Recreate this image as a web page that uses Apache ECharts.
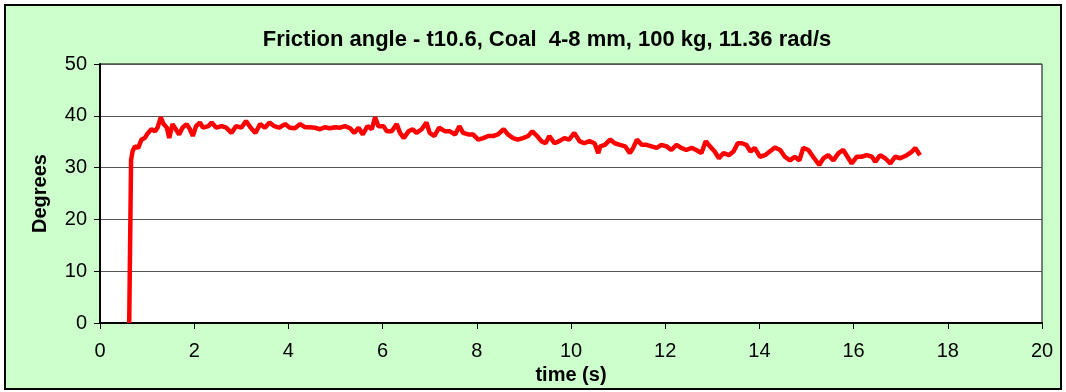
<!DOCTYPE html>
<html>
<head>
<meta charset="utf-8">
<script src="https://cdn.jsdelivr.net/npm/echarts@6/dist/echarts.min.js"></script>
<style>
  html, body { margin: 0; padding: 0; background: #ffffff; }
  #chart { width: 1066px; height: 392px; }
</style>
</head>
<body>
<div id="chart"></div>
<script>
// Friction angle record: time (s) and angle (degrees)
const timeS = [
  0.62, 0.66, 0.69, 0.74, 0.81, 0.88, 0.95, 1.02, 1.09, 1.17, 1.22, 1.29, 1.35, 1.42, 1.47, 1.54, 1.61, 1.68, 1.75, 1.84,
  1.91, 1.97, 2.04, 2.12, 2.19, 2.30, 2.37, 2.47, 2.58, 2.68, 2.79, 2.89, 3.00, 3.10, 3.20, 3.30, 3.40, 3.50, 3.60, 3.70,
  3.80, 3.93, 4.03, 4.14, 4.25, 4.35, 4.46, 4.56, 4.67, 4.77, 4.88, 4.99, 5.10, 5.20, 5.31, 5.40, 5.49, 5.58, 5.68, 5.77,
  5.84, 5.91, 6.02, 6.09, 6.19, 6.30, 6.37, 6.45, 6.55, 6.64, 6.72, 6.83, 6.93, 7.00, 7.10, 7.20, 7.33, 7.43, 7.54, 7.63,
  7.71, 7.82, 7.92, 8.03, 8.14, 8.24, 8.35, 8.45, 8.57, 8.66, 8.77, 8.87, 8.98, 9.09, 9.18, 9.28, 9.37, 9.46, 9.54, 9.65,
  9.75, 9.86, 9.96, 10.07, 10.18, 10.28, 10.39, 10.50, 10.58, 10.62, 10.72, 10.83, 10.93, 11.04, 11.15, 11.25, 11.32, 11.40, 11.50, 11.60,
  11.71, 11.82, 11.92, 12.03, 12.13, 12.24, 12.34, 12.45, 12.56, 12.66, 12.77, 12.86, 12.95, 13.05, 13.14, 13.24, 13.35, 13.45, 13.54, 13.63,
  13.72, 13.81, 13.90, 14.01, 14.12, 14.22, 14.33, 14.44, 14.54, 14.65, 14.75, 14.85, 14.93, 15.04, 15.14, 15.27, 15.36, 15.46, 15.57, 15.68,
  15.78, 15.87, 15.96, 16.07, 16.17, 16.28, 16.39, 16.46, 16.56, 16.67, 16.78, 16.88, 16.99, 17.13, 17.24, 17.31, 17.41
];
const angleDeg = [
  0.0, 31.5, 33.1, 34.1, 33.8, 35.4, 35.7, 36.7, 37.4, 37.0, 37.7, 39.7, 38.4, 37.7, 35.7, 38.4, 37.4, 36.4, 37.7, 38.4,
  37.4, 36.1, 38.0, 38.7, 37.7, 38.0, 38.7, 37.7, 38.0, 37.7, 36.7, 38.0, 37.7, 39.0, 37.7, 36.7, 38.4, 37.7, 38.7, 38.0,
  37.7, 38.4, 37.7, 37.6, 38.4, 37.8, 37.8, 37.7, 37.4, 37.8, 37.6, 37.8, 37.7, 38.0, 37.6, 36.7, 37.7, 36.4, 38.0, 37.4,
  39.7, 38.0, 38.0, 37.0, 37.0, 38.4, 36.7, 35.7, 37.0, 37.4, 36.7, 37.4, 38.7, 36.7, 36.1, 37.7, 37.0, 37.0, 36.4, 38.0,
  36.7, 36.4, 36.4, 35.4, 35.7, 36.1, 36.1, 36.4, 37.4, 36.4, 35.7, 35.4, 35.7, 36.1, 37.0, 36.1, 35.1, 34.7, 36.1, 34.7,
  35.1, 35.7, 35.4, 36.7, 35.1, 34.7, 35.1, 34.7, 32.8, 34.1, 34.4, 35.4, 34.7, 34.4, 34.1, 32.8, 33.8, 35.4, 34.4, 34.4,
  34.1, 33.8, 34.4, 34.1, 33.4, 34.4, 33.8, 33.4, 33.8, 33.4, 32.8, 35.1, 34.1, 33.1, 31.8, 32.8, 32.4, 33.1, 34.7, 34.7,
  34.4, 33.1, 33.8, 32.1, 32.4, 33.1, 33.9, 33.4, 32.1, 31.4, 32.1, 31.4, 33.8, 33.4, 32.1, 30.5, 31.8, 32.4, 31.4, 32.8,
  33.4, 32.1, 30.8, 32.1, 32.1, 32.4, 32.1, 31.1, 32.4, 31.8, 30.8, 32.1, 31.8, 32.4, 33.1, 33.8, 32.4
];
const xTicks = [0, 2, 4, 6, 8, 10, 12, 14, 16, 18, 20];
const yTicks = [0, 10, 20, 30, 40, 50];

const points = timeS.map((t, i) => [t, angleDeg[i]]);
const font = '"Liberation Sans", Arial, sans-serif';

const chart = echarts.init(document.getElementById('chart'), null, { renderer: 'canvas' });
chart.setOption({
  backgroundColor: '#ffffff',
  animation: false,
  graphic: [{
    type: 'rect',
    z: -10,
    silent: true,
    shape: { x: 5, y: 5, width: 1056, height: 384 },
    style: { fill: '#ccffcc', stroke: '#000000', lineWidth: 2 }
  }],
  title: {
    text: 'Friction angle - t10.6, Coal  4-8 mm, 100 kg, 11.36 rad/s',
    left: 542,
    top: 24,
    textAlign: 'center',
    textStyle: { fontFamily: font, fontSize: 22, fontWeight: 'bold', color: '#000000' }
  },
  grid: {
    left: 100, top: 64, right: 24, bottom: 69,
    show: true, backgroundColor: '#ffffff', borderColor: '#000000', borderWidth: 1
  },
  xAxis: {
    type: 'value',
    min: xTicks[0], max: xTicks[xTicks.length - 1], interval: 2,
    name: 'time (s)',
    nameLocation: 'middle',
    nameGap: 40,
    nameTextStyle: { fontFamily: font, fontSize: 20, fontWeight: 'bold', color: '#000000' },
    axisLine: { show: true, lineStyle: { color: '#000000', width: 2 } },
    axisTick: { show: true, length: 6, lineStyle: { color: '#000000' } },
    axisLabel: { fontFamily: font, fontSize: 20, color: '#000000', margin: 18 },
    splitLine: { show: false }
  },
  yAxis: {
    type: 'value',
    min: yTicks[0], max: yTicks[yTicks.length - 1], interval: 10,
    name: 'Degrees',
    nameLocation: 'middle',
    nameGap: 50,
    nameTextStyle: { fontFamily: font, fontSize: 20, fontWeight: 'bold', color: '#000000' },
    axisLine: { show: true, lineStyle: { color: '#000000', width: 2 } },
    axisTick: { show: true, length: 6, lineStyle: { color: '#000000' } },
    axisLabel: { fontFamily: font, fontSize: 20, color: '#000000', margin: 13 },
    splitLine: { show: true, lineStyle: { color: '#555555', width: 1 } }
  },
  series: [{
    type: 'line',
    data: points,
    showSymbol: false,
    smooth: false,
    lineStyle: { color: '#ff0000', width: 4.5 },
    itemStyle: { color: '#ff0000' }
  }]
});
</script>
</body>
</html>
